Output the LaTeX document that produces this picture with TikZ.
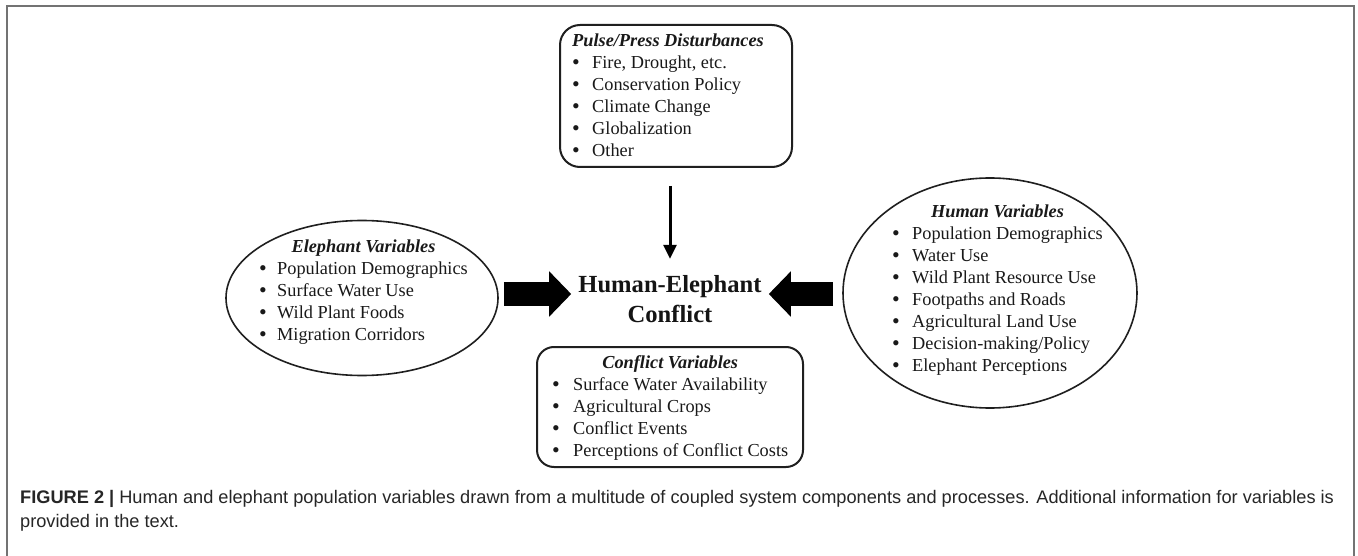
\documentclass[tikz,border=0pt]{standalone}
\usepackage{fontspec}
\setmainfont{Liberation Serif}
\newfontfamily\capfont{Liberation Sans}
\usetikzlibrary{arrows.meta,shapes.geometric,calc}
\newcommand\bitem[2][20pt]{\makebox[#1][l]{\raisebox{-1.3pt}{\scalebox{1.2}{\textbullet}}}#2}
\begin{document}
\begin{tikzpicture}[x=1pt,y=-1pt,
  rbox/.style={draw=black!88, line width=2pt, rounded corners=20pt, inner sep=0pt},
  ell/.style={draw=black!88, line width=1.6pt, ellipse, inner sep=0pt},
  lst/.style={inner sep=0pt, anchor=north west, font=\fontsize{18.3}{22}\selectfont, text=black!90},
  fatarrow/.style={draw=black, line width=24pt, -{Triangle[length=22pt,width=44pt]}},
  thinarrow/.style={draw=black, line width=3pt, -{Triangle[length=14pt,width=13pt]}},
  frame/.style={draw=black!55, line width=1.5pt}]
\useasboundingbox (0,0) rectangle (1358,556);
\fill[white] (0,0) rectangle (1358,556);
\draw[frame] (7,556) -- (7,6) -- (1354,6) -- (1354,556);

% top box
\node[rbox, minimum width=232pt, minimum height=142pt] (pressbox) at (676,96) {};
\node[lst] (presstxt) at (572,30.6) {\begin{tabular}{@{}l@{}}
\textbf{\textit{Pulse/Press Disturbances}}\\
\bitem{Fire, Drought, etc.}\\
\bitem{Conservation Policy}\\
\bitem{Climate Change}\\
\bitem{Globalization}\\
\bitem{Other}
\end{tabular}};

% left ellipse
\node[ell, minimum width=272pt, minimum height=155pt] (elvar) at (362,298) {};
\node[lst] (eltxt) at (259,236.6) {\begin{tabular}{@{}l@{}}
\multicolumn{1}{@{}c@{}}{\textbf{\textit{Elephant Variables}}}\\
\bitem[18pt]{Population Demographics}\\
\bitem[18pt]{Surface Water Use}\\
\bitem[18pt]{Wild Plant Foods}\\
\bitem[18pt]{Migration Corridors}
\end{tabular}};

% right ellipse
\node[ell, minimum width=294pt, minimum height=230pt] (huvar) at (990,293) {};
\node[lst] (hutxt) at (892,201.6) {\begin{tabular}{@{}l@{}}
\multicolumn{1}{@{}c@{}}{\textbf{\textit{Human Variables}}}\\
\bitem{Population Demographics}\\
\bitem{Water Use}\\
\bitem{Wild Plant Resource Use}\\
\bitem{Footpaths and Roads}\\
\bitem{Agricultural Land Use}\\
\bitem{Decision-making/Policy}\\
\bitem{Elephant Perceptions}
\end{tabular}};

% bottom box
\node[rbox, rounded corners=17pt, minimum width=266pt, minimum height=120pt] (cobox) at (670,407) {};
\node[lst] (cotxt) at (552,352.6) {\begin{tabular}{@{}l@{}}
\multicolumn{1}{@{}c@{}}{\textbf{\textit{Conflict Variables}}}\\
\bitem[21pt]{Surface Water Availability}\\
\bitem[21pt]{Agricultural Crops}\\
\bitem[21pt]{Conflict Events}\\
\bitem[21pt]{Perceptions of Conflict Costs}
\end{tabular}};

% center
\node[inner sep=0pt, font=\fontsize{24.6}{30}\selectfont\bfseries, text=black!92] (hec) at (670,302)
  {\begin{tabular}{@{}c@{}}Human-Elephant\\Conflict\end{tabular}};

% connectors
\draw[thinarrow, shorten <=18pt, shorten >=13pt] (pressbox.south -| hec.north) -- (hec.north);
\draw[fatarrow] ([shift={(5,-4)}]elvar.east) -- ([shift={(-7,-8)}]hec.west);
\draw[fatarrow] ([shift={(-9,1)}]huvar.west) -- ([shift={(7,-8)}]hec.east);

% caption
\node[inner sep=0pt, anchor=north west, font=\capfont\fontsize{18.2}{24}\selectfont, text=black!85] (cap) at (20,486.2)
  {\begin{tabular}{@{}l@{}}\textbf{FIGURE 2 |} Human and elephant population variables drawn from a multitude of coupled system components and processes. Additional information for variables is\\
  provided in the text.\end{tabular}};
\end{tikzpicture}
\end{document}
